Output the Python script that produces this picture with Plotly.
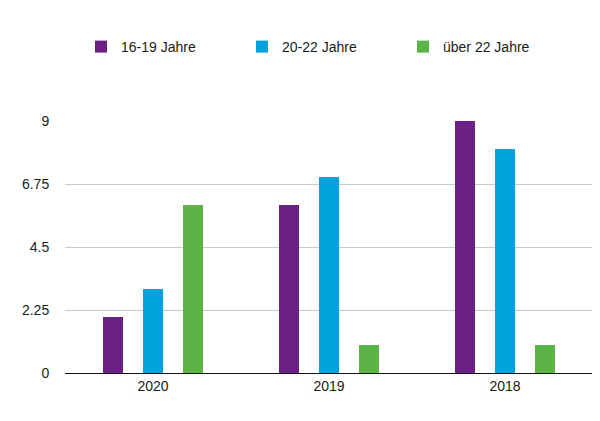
import plotly.graph_objects as go

categories = ["2020", "2019", "2018"]
series_names = ["16-19 Jahre", "20-22 Jahre", "über 22 Jahre"]
vals_16_19 = [2, 6, 9]
vals_20_22 = [3, 7, 8]
vals_ueber_22 = [6, 1, 1]
colors = ["#6b2086", "#00a3dc", "#5cb446"]
y_ticks = [0, 2.25, 4.5, 6.75, 9]

fig = go.Figure()
for name, vals, col in zip(series_names, [vals_16_19, vals_20_22, vals_ueber_22], colors):
    fig.add_trace(go.Bar(x=categories, y=vals, name=name, marker=dict(color=col, line=dict(width=0))))

# page body has an 8px margin, so the figure is sized to fit the remaining view
W, H = 592, 413
L, R, T, B = 57, 7, 113, 48
pw, ph = W - L - R, H - T - B

fig.update_layout(
    width=W, height=H,
    margin=dict(l=L, r=R, t=T, b=B, pad=0, autoexpand=False),
    paper_bgcolor="white",
    plot_bgcolor="white",
    barmode="group",
    bargap=0.318,
    bargroupgap=0.5,
    font=dict(family="Liberation Sans, Arial, sans-serif", size=14, color="#1a1a1a"),
    showlegend=True,
    legend=dict(
        orientation="h",
        x=(73 - L) / pw, xanchor="left",
        y=(T + ph - 39) / ph, yanchor="middle",
        entrywidth=116, entrywidthmode="pixels",
        bgcolor="rgba(0,0,0,0)",
        font=dict(size=14),
    ),
    xaxis=dict(
        type="category",
        showgrid=False,
        showline=True, linecolor="#111111", linewidth=1,
        ticks="", tickfont=dict(size=14),
    ),
    yaxis=dict(
        range=[0, 9],
        tickvals=y_ticks,
        ticktext=["0", "2.25", "4.5", "6.75", "9"],
        showgrid=True, gridcolor="#c8c8c8", gridwidth=1,
        zeroline=True, zerolinecolor="#111111", zerolinewidth=1,
        showline=False,
        ticks="outside", ticklen=12, tickcolor="rgba(0,0,0,0)",
        tickfont=dict(size=14),
    ),
)

fig.write_html("out.html")
